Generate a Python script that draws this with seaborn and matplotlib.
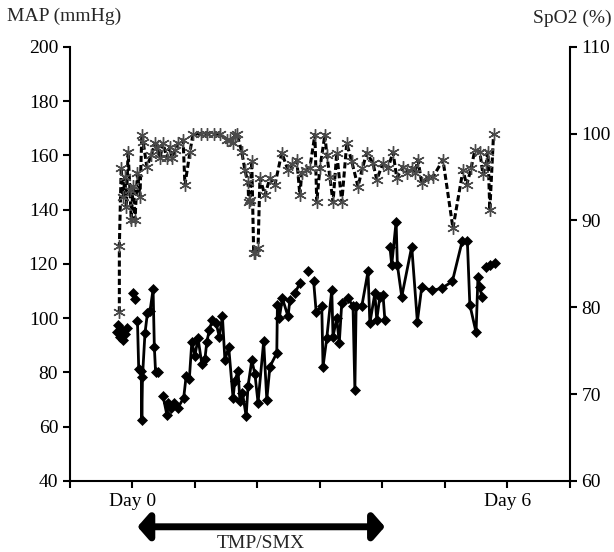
import numpy as np
import pandas as pd
import matplotlib
matplotlib.use('Agg')
import matplotlib.pyplot as plt
import seaborn as sns

nan = np.nan

# MAP (mmHg), solid line with diamonds; nan marks a break in the line
map_day = [-0.25, -0.23, -0.20, -0.17, -0.15, -0.12, -0.09, nan,
           0.01, 0.04, nan,
           0.08, 0.10, 0.14, 0.15, 0.16, 0.20, 0.24, 0.28, 0.33, 0.35, 0.37, 0.41, nan,
           0.49, 0.55, 0.57, 0.61, 0.66, 0.73, 0.82, 0.86, 0.91, 0.95,
           1.00, 1.05, 1.11, 1.16, 1.19, 1.23, 1.28, 1.34, 1.39, 1.44,
           1.48, 1.54, 1.61, 1.64, 1.69, 1.72, 1.76, 1.82, 1.85, 1.91,
           1.96, 2.01, 2.10, 2.15, 2.20, 2.31, 2.32, 2.35, 2.40, 2.49, 2.52, nan,
           2.60, 2.68, nan,
           2.81, nan,
           2.90, 2.94, 3.03, 3.05, 3.11, 3.19, 3.21, 3.27, 3.31, 3.35,
           3.45, 3.53, 3.56, 3.58, 3.67, 3.77, 3.80, 3.88, 3.91, 3.96, 4.01, 4.04, nan,
           4.12, 4.15, 4.22, 4.24, 4.31, 4.47, 4.56, 4.63, 4.80, 4.95,
           5.12, 5.28, 5.36, 5.40, 5.50, 5.53, 5.56, 5.59, nan,
           5.66, 5.72, 5.80]
map_val = [95.0, 97.5, 93.0, 95.5, 92.0, 94.0, 96.5, nan,
           109.4, 107.0, nan,
           98.8, 81.2, 80.6, 62.5, 78.1, 94.4, 101.9, 102.5, 110.6, 89.4, 80.0, 80.0, nan,
           71.2, 64.4, 68.8, 67.0, 68.8, 67.0, 70.6, 78.8, 77.5, 91.2,
           86.2, 92.5, 83.1, 85.0, 91.2, 95.6, 99.4, 98.1, 93.1, 100.6,
           84.4, 89.4, 70.6, 76.9, 80.6, 69.4, 72.5, 63.8, 75.0, 84.4,
           79.4, 68.8, 91.4, 69.9, 82.1, 87.1, 104.9, 100.0, 107.3, 100.6, 106.7, nan,
           109.2, 112.9, nan,
           117.2, nan,
           113.5, 102.4, 104.3, 82.1, 92.6, 110.4, 93.2, 100.0, 90.8, 105.5,
           107.4, 104.3, 73.5, 104.3, 104.3, 117.2, 98.1, 109.2, 99.4, 107.9, 108.6, 99.4, nan,
           126.4, 119.6, 135.6, 119.6, 107.9, 126.4, 98.7, 111.4, 110.2, 111.0,
           113.5, 128.6, 128.6, 104.9, 94.7, 115.3, 111.6, 107.9, nan,
           119.0, 119.6, 120.5]

# SpO2 (%), dashed line with asterisks
spo2_day = [-0.21, -0.21, -0.18, -0.15, -0.12, -0.10, -0.07, -0.04, -0.02, 0.01,
            0.04, 0.08, 0.12, 0.15, 0.17, 0.23, 0.30, 0.36, 0.39, 0.44,
            0.49, 0.55, 0.60, 0.63, 0.68, 0.73, 0.81, 0.84, 0.92, 0.97,
            1.10, 1.20, 1.30, 1.40, 1.51, 1.56, 1.61, 1.64, 1.67, 1.75,
            1.80, 1.85, 1.86, 1.88, 1.91, 1.94, 1.96, 2.01, 2.04, 2.12,
            2.20, 2.28, 2.39, 2.49, 2.56, 2.63, 2.68, 2.71, 2.78, 2.84,
            2.92, 2.95, 3.00, 3.08, 3.11, 3.16, 3.21, 3.27, 3.35, 3.43,
            3.51, 3.61, 3.68, 3.75, 3.85, 3.91, 4.01, 4.09, 4.17, 4.23,
            4.33, 4.40, 4.47, 4.52, 4.57, 4.63, 4.73, 4.81, 4.97, 5.13,
            5.29, 5.35, 5.42, 5.48, 5.56, 5.61, 5.66, 5.69, 5.72, 5.78]
spo2_val = [79.4, 87.1, 96.1, 92.7, 95.0, 91.5, 97.9, 93.5, 90.1, 94.0,
            90.1, 95.5, 92.7, 99.9, 99.1, 96.2, 97.5, 98.9, 98.4, 97.2,
            98.9, 97.2, 98.5, 97.2, 98.1, 98.9, 99.3, 94.1, 97.9, 100.0,
            100.0, 100.0, 100.0, 100.0, 99.3, 99.3, 98.9, 99.9, 100.0, 97.9,
            95.8, 94.4, 92.1, 92.4, 96.8, 86.3, 86.3, 86.8, 94.9, 92.9,
            94.9, 94.1, 97.8, 95.8, 96.5, 97.0, 92.9, 95.5, 95.8, 96.1,
            99.9, 92.1, 96.0, 99.9, 97.6, 95.0, 92.1, 97.8, 92.1, 98.9,
            96.8, 93.9, 96.0, 97.8, 96.6, 94.7, 96.6, 96.0, 97.9, 94.9,
            96.2, 95.5, 96.1, 95.5, 97.0, 94.3, 95.0, 95.0, 97.0, 89.1,
            95.8, 94.1, 96.0, 98.1, 97.9, 95.3, 96.5, 97.9, 91.2, 100.0]

day_ticks = [-1, 0, 1, 2, 3, 4, 5, 6, 7]
day_labels = ['', 'Day 0', '', '', '', '', '', 'Day 6', '']
tmp_start, tmp_end = 0.08, 4.04

sns.set_style('ticks')
plt.rcParams['font.family'] = ['Liberation Serif', 'DejaVu Serif']
plt.rcParams['font.size'] = 14

map_df = pd.DataFrame({'day': map_day, 'map': map_val})
map_df['seg'] = map_df['day'].isna().cumsum()
map_df = map_df.dropna()
spo2_df = pd.DataFrame({'day': spo2_day, 'spo2': spo2_val})

fig = plt.figure(figsize=(6.14, 5.52), dpi=100)
ax = fig.add_axes([0.114, 0.129, 0.814, 0.786])
ax2 = ax.twinx()

sns.lineplot(data=map_df, x='day', y='map', units='seg', estimator=None, sort=False,
             color='black', lw=2, marker='D', markersize=5,
             markeredgecolor='black', markeredgewidth=0.5, ax=ax)
sns.lineplot(data=spo2_df, x='day', y='spo2', estimator=None, sort=False,
             color='black', lw=2.2, ls=(0, (2, 1)), marker=(6, 2, 0), markersize=9,
             markeredgecolor='#4a4a4a', markeredgewidth=1, ax=ax2)

ax.set_xlim(-1, 7)
ax.set_ylim(40, 200)
ax.set_yticks(range(40, 201, 20))
ax2.set_ylim(60, 110)
ax2.set_yticks(range(60, 111, 10))
ax.set_xticks(day_ticks)
ax.set_xticklabels(day_labels)
for a in (ax, ax2):
    a.set_xlabel('')
    a.set_ylabel('')
    a.spines['top'].set_visible(False)
    for s in a.spines.values():
        s.set_linewidth(1.5)
        s.set_color('black')
ax.spines['right'].set_visible(False)
ax2.spines['left'].set_visible(False)
ax2.spines['bottom'].set_visible(False)
ax.tick_params(direction='out', length=5, width=1.5, colors='black', labelsize=14)
ax2.tick_params(axis='y', direction='out', length=5, width=1.5, colors='black',
                labelsize=14, right=True)

fig.text(7 / 614, 1 - 16 / 552, 'MAP (mmHg)', ha='left', va='center', fontsize=14)
fig.text(612 / 614, 1 - 18 / 552, 'SpO2 (%)', ha='right', va='center', fontsize=14)

# treatment period arrow
ax.annotate('', xy=(tmp_end, -0.106), xytext=(tmp_start, -0.106),
            xycoords=ax.get_xaxis_transform(), textcoords=ax.get_xaxis_transform(),
            arrowprops=dict(arrowstyle='<|-|>,head_length=0.35,head_width=0.4',
                            lw=5, color='black', shrinkA=0, shrinkB=0, mutation_scale=20),
            annotation_clip=False)
ax.text((tmp_start + tmp_end) / 2, -0.145, 'TMP/SMX', transform=ax.get_xaxis_transform(),
        ha='center', va='center', fontsize=14)

fig.savefig('out.png', dpi=100)
